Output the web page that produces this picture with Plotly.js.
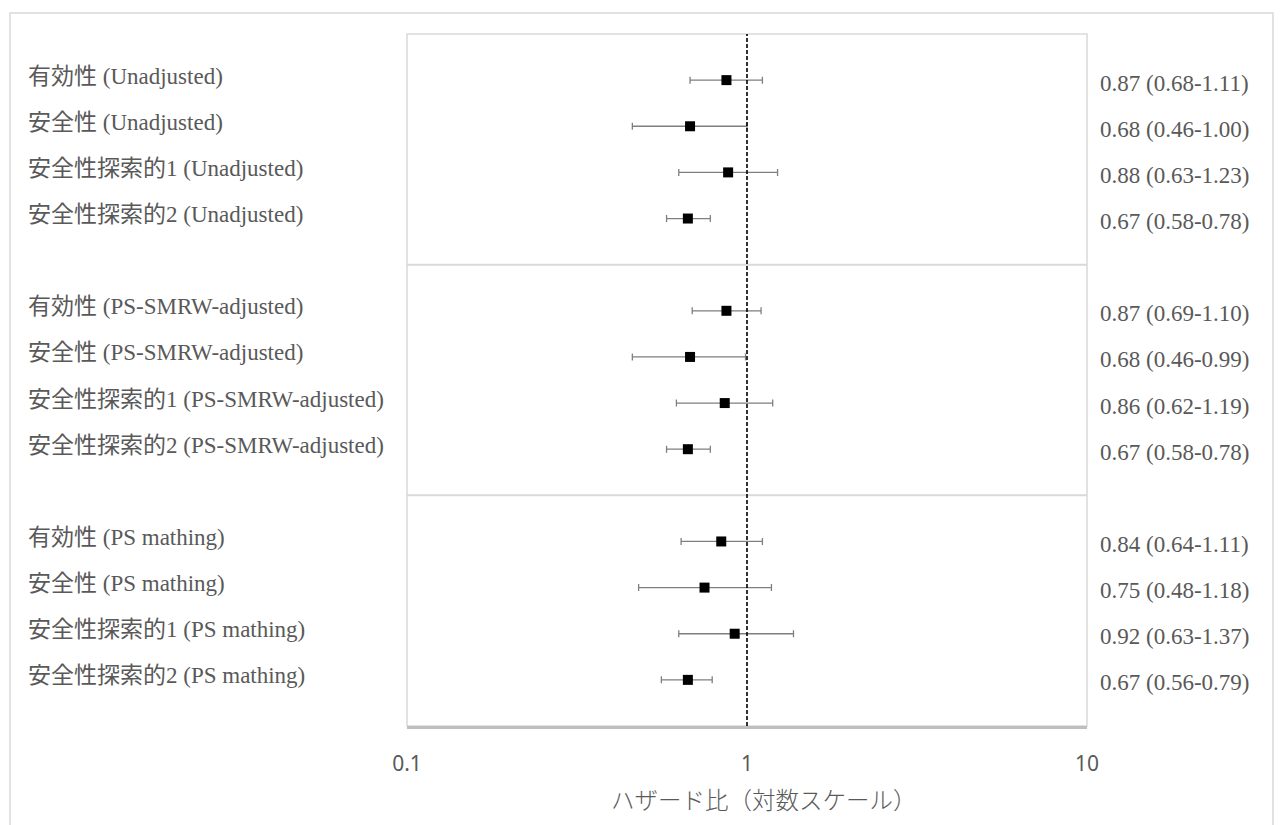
<!DOCTYPE html>
<html>
<head>
<meta charset="utf-8">
<script src="https://cdn.plot.ly/plotly-3.0.1.min.js"></script>
<style>
html,body{margin:0;padding:0;background:#fff;}
#chart{width:1282px;height:825px;}
</style>
</head>
<body>
<div id="chart"></div>
<script>
// ---- data ----
const outcomes = ["有効性", "安全性", "安全性探索的1", "安全性探索的2"];
const methods = ["Unadjusted", "PS-SMRW-adjusted", "PS mathing"];

const hrUnadjusted  = [0.87, 0.68, 0.88, 0.67];
const loUnadjusted  = [0.68, 0.46, 0.63, 0.58];
const hiUnadjusted  = [1.11, 1.00, 1.23, 0.78];

const hrSMRW = [0.87, 0.68, 0.86, 0.67];
const loSMRW = [0.69, 0.46, 0.62, 0.58];
const hiSMRW = [1.10, 0.99, 1.19, 0.78];

const hrMatching = [0.84, 0.75, 0.92, 0.67];
const loMatching = [0.64, 0.48, 0.63, 0.56];
const hiMatching = [1.11, 1.18, 1.37, 0.79];

const xTickVals = [0.1, 1, 10];
const xTickText = ["0.1", "1", "10"];
const xAxisTitle = "ハザード比（対数スケール）";
const referenceHR = 1;

// ---- build rows ----
const groups = [
  {hr: hrUnadjusted, lo: loUnadjusted, hi: hiUnadjusted},
  {hr: hrSMRW, lo: loSMRW, hi: hiSMRW},
  {hr: hrMatching, lo: loMatching, hi: hiMatching}
];
const slotsPerGroup = outcomes.length + 1;
const totalSlots = slotsPerGroup * methods.length;

const xs = [], ys = [], errPlus = [], errMinus = [], leftLabels = [], rightLabels = [];
groups.forEach((g, gi) => {
  outcomes.forEach((o, oi) => {
    const y = gi * slotsPerGroup + oi + 1;
    xs.push(g.hr[oi]);
    ys.push(y);
    errPlus.push(g.hi[oi] - g.hr[oi]);
    errMinus.push(g.hr[oi] - g.lo[oi]);
    leftLabels.push({y: y, text: o + " (" + methods[gi] + ")"});
    rightLabels.push({y: y, text: g.hr[oi].toFixed(2) + " (" + g.lo[oi].toFixed(2) + "-" + g.hi[oi].toFixed(2) + ")"});
  });
});

const trace = {
  type: "scatter",
  mode: "markers",
  x: xs,
  y: ys,
  marker: {symbol: "square", size: 10, color: "#000000"},
  error_x: {
    type: "data",
    symmetric: false,
    array: errPlus,
    arrayminus: errMinus,
    color: "#7f7f7f",
    thickness: 1.3,
    width: 3.5
  },
  hoverinfo: "x+y",
  showlegend: false,
  cliponaxis: false
};

const labelFont = {family: "'Liberation Serif', 'Times New Roman', 'Noto Sans CJK JP', serif", size: 23, color: "#595959"};

const annotations = [];
leftLabels.forEach(l => annotations.push({
  xref: "paper", yref: "y", x: -0.5605, y: l.y, xanchor: "left", yanchor: "middle",
  yshift: 4, text: l.text, showarrow: false, font: labelFont
}));
rightLabels.forEach(l => annotations.push({
  xref: "paper", yref: "y", x: 1.0165, y: l.y, xanchor: "left", yanchor: "middle",
  yshift: -3, text: l.text, showarrow: false, font: labelFont
}));
annotations.push({
  xref: "paper", yref: "paper", x: 0.525, y: -0.1055, xanchor: "center", yanchor: "middle",
  text: xAxisTitle, showarrow: false,
  font: {family: "'Noto Sans CJK JP', sans-serif", size: 23.5, color: "#595959", weight: 300}
});

const shapes = [];
// outer chart border
shapes.push({type: "rect", xref: "paper", yref: "paper", x0: -0.5838, x1: 1.2735, y0: -0.16, y1: 1.0303,
  line: {color: "#d9d9d9", width: 1.5}, fillcolor: "rgba(0,0,0,0)", layer: "below"});
// plot area border
shapes.push({type: "rect", xref: "paper", yref: "paper", x0: 0, x1: 1, y0: 0, y1: 1,
  line: {color: "#d9d9d9", width: 1.5}, fillcolor: "rgba(0,0,0,0)", layer: "below"});
// group separators
for (let gi = 1; gi < methods.length; gi++) {
  shapes.push({type: "line", xref: "paper", yref: "y", x0: 0, x1: 1, y0: gi * slotsPerGroup, y1: gi * slotsPerGroup,
    line: {color: "#d9d9d9", width: 2}, layer: "below"});
}
// reference line at HR = 1
shapes.push({type: "line", xref: "x", yref: "paper", x0: referenceHR, x1: referenceHR, y0: 0, y1: 1,
  line: {color: "#000000", width: 1.6, dash: "4px,2px"}, layer: "above"});

const layout = {
  width: 1282,
  height: 825,
  autosize: false,
  margin: {l: 407, r: 195, t: 34, b: 99, pad: 0},
  paper_bgcolor: "#ffffff",
  plot_bgcolor: "#ffffff",
  showlegend: false,
  xaxis: {
    type: "log",
    range: [Math.log10(xTickVals[0]), Math.log10(xTickVals[xTickVals.length - 1])],
    tickvals: xTickVals,
    ticktext: xTickText,
    ticks: "",
    ticklabelstandoff: 17,
    tickfont: {family: "'Noto Sans', 'Open Sans', sans-serif", size: 21, color: "#595959"},
    showgrid: false,
    zeroline: false,
    showline: true,
    linecolor: "#bfbfbf",
    linewidth: 2.5,
    mirror: false,
    fixedrange: true
  },
  yaxis: {
    range: [totalSlots, 0],
    showticklabels: false,
    showgrid: false,
    zeroline: false,
    showline: false,
    ticks: "",
    fixedrange: true
  },
  annotations: annotations,
  shapes: shapes
};

Plotly.newPlot("chart", [trace], layout, {displayModeBar: false, staticPlot: true});
</script>
</body>
</html>
